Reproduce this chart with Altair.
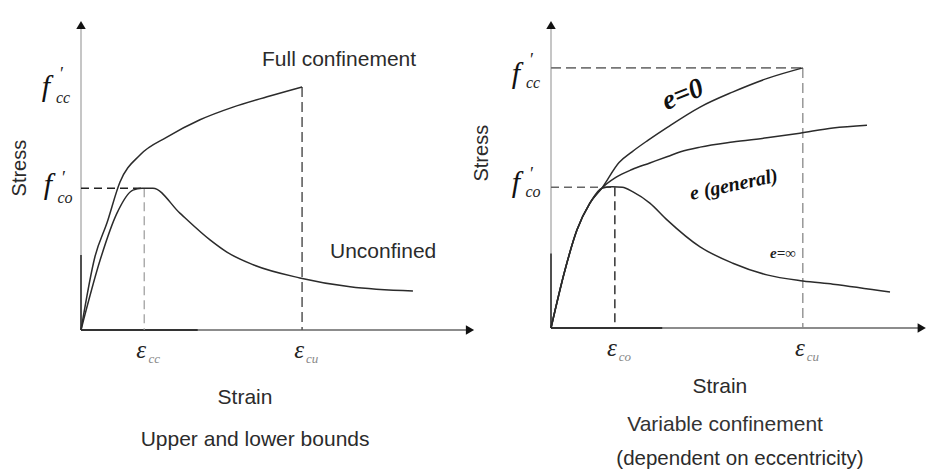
import altair as alt
import pandas as pd

# ---------------------------------------------------------------
# Left panel: upper and lower bounds of the stress-strain curve
# (strain in 10^-3, stress in MPa, schematic values)
# ---------------------------------------------------------------
L_UNC_STRAIN = [0, 0.59, 1.11, 1.60, 1.88, 2.22, 3.05, 3.98, 4.50, 5.31, 6.75, 8.30, 10.24]
L_UNC_STRESS = [0, 14.9, 24.9, 29.8, 30.2, 30.2, 24.9, 19.2, 16.6, 13.9, 11.1, 9.2, 8.3]
L_FULL_STRAIN = [0, 0.43, 0.80, 1.20, 1.82, 2.65, 3.67, 4.69, 5.74, 6.82]
L_FULL_STRESS = [0, 15.6, 22.8, 31.5, 37.3, 41.1, 44.8, 47.5, 49.7, 51.8]
L_FCO, L_FCC = 30.2, 51.8
L_EPS_CC, L_EPS_CU = 1.95, 6.82

# ---------------------------------------------------------------
# Right panel: variable confinement, dependent on eccentricity
# ---------------------------------------------------------------
R_RISE_STRAIN = [0, 0.43, 0.80, 1.20, 1.57]
R_RISE_STRESS = [0, 12.4, 21.0, 26.8, 30.0]
R_E0_STRAIN = [2.1, 2.5, 3.0, 3.6, 4.6, 5.6, 6.7, 7.77]
R_E0_STRESS = [35.5, 37.8, 40.3, 43.1, 47.4, 50.6, 53.6, 55.8]
R_GEN_STRAIN = [2.0, 2.5, 3.05, 3.6, 4.0, 4.6, 5.6, 6.66, 7.68, 8.7, 9.75]
R_GEN_STRESS = [32.3, 34.0, 35.4, 36.8, 37.8, 38.8, 39.9, 40.8, 41.8, 42.9, 43.5]
R_INF_STRAIN = [1.9, 2.2, 2.53, 3.05, 3.58, 4.60, 5.61, 6.66, 7.77, 8.70, 10.46]
R_INF_STRESS = [30.3, 30.2, 29.2, 26.8, 23.2, 17.4, 13.9, 11.4, 10.1, 9.4, 7.7]
R_FCO, R_FCC = 30.2, 55.8
R_EPS_CO, R_EPS_CU = 1.97, 7.77

STRESS_MAX = 65
L_STRAIN_MAX, R_STRAIN_MAX = 12.0, 11.54

SANS = "Liberation Sans"
SERIF = "Liberation Serif"
INK = "#2b2b2b"
TEXT_SIZE = 21

# each panel keeps its own scales; ranges place the panels side by side
SCALES = {
    "L": (alt.Scale(domain=[0, L_STRAIN_MAX], range=[0, 389], nice=False, zero=False),
          alt.Scale(domain=[0, STRESS_MAX], range=[305, 0], nice=False, zero=False)),
    "R": (alt.Scale(domain=[0, R_STRAIN_MAX], range=[470, 844], nice=False, zero=False),
          alt.Scale(domain=[0, STRESS_MAX], range=[303, 0], nice=False, zero=False)),
}


def enc(panel, with2=False):
    sx, sy = SCALES[panel]
    e = dict(x=alt.X("x:Q", scale=sx, axis=None), y=alt.Y("y:Q", scale=sy, axis=None))
    if with2:
        e.update(x2="x2:Q", y2="y2:Q")
    return e


def curve(panel, xs, ys):
    df = pd.DataFrame({"x": xs, "y": ys})
    return alt.Chart(df).mark_line(color=INK, strokeWidth=1.5, interpolate="monotone").encode(**enc(panel))


def segment(panel, x, y, x2, y2, **style):
    df = pd.DataFrame({"x": [x], "y": [y], "x2": [x2], "y2": [y2]})
    return alt.Chart(df).mark_rule(**style).encode(**enc(panel, True))


def label(panel, x, y, text, **style):
    df = pd.DataFrame({"x": [x], "y": [y], "t": [text]})
    return alt.Chart(df).mark_text(**style).encode(text="t:N", **enc(panel))


def caption(panel, x, y, text, **style):
    style.setdefault("fontSize", TEXT_SIZE)
    style.setdefault("color", INK)
    return label(panel, x, y, text, font=SANS, align="center", baseline="middle", **style)


def arrow(panel, x, y, shape):
    df = pd.DataFrame({"x": [x], "y": [y]})
    return alt.Chart(df).mark_point(shape=shape, filled=True, size=90, color="#111",
                                    opacity=1).encode(**enc(panel))


def axes(panel, xmax):
    return [
        segment(panel, 0, 0, 0, STRESS_MAX, color="#a8a8a8", strokeWidth=1.3),
        segment(panel, 0, 0, xmax, 0, color="#8c8c8c", strokeWidth=2),
        segment(panel, 0, 0, 0, 16, color="#333", strokeWidth=1.6),
        segment(panel, 0, 0, xmax * 0.3, 0, color="#333", strokeWidth=2),
        arrow(panel, 0, STRESS_MAX, "triangle-up"),
        arrow(panel, xmax, 0, "triangle-right"),
    ]


def f_label(panel, level, sub, dx, dys):
    # italic f with prime and subscript, anchored on the stress level
    return [
        label(panel, 0, level, "f", font=SERIF, fontStyle="italic", fontSize=30, color="#111",
              align="center", baseline="alphabetic", dx=dx, dy=dys[0]),
        label(panel, 0, level, "′", font=SERIF, fontSize=18, color="#222",
              align="center", baseline="alphabetic", dx=dx + 16, dy=dys[1]),
        label(panel, 0, level, sub, font=SERIF, fontStyle="italic", fontSize=16, color="#222",
              align="center", baseline="alphabetic", dx=dx + 17, dy=dys[2]),
    ]


def eps_label(panel, strain, sub):
    return [
        label(panel, strain, 0, "ε", font=SERIF, fontStyle="italic", fontSize=25, color="#222",
              align="center", baseline="alphabetic", dx=-3, dy=28),
        label(panel, strain, 0, sub, font=SERIF, fontStyle="italic", fontSize=13, color="#888",
              align="center", baseline="alphabetic", dx=10, dy=33),
    ]


# ---------------- left panel ----------------
left_layers = axes("L", L_STRAIN_MAX) + [
    segment("L", 0, L_FCO, L_EPS_CC, L_FCO, color="#222", strokeWidth=1.5, strokeDash=[8, 5]),
    segment("L", L_EPS_CC, L_FCO, L_EPS_CC, 0, color="#9a9a9a", strokeWidth=1.2, strokeDash=[9, 5]),
    segment("L", L_EPS_CU, L_FCC, L_EPS_CU, 0, color="#555", strokeWidth=1.5, strokeDash=[10, 5]),
    curve("L", L_UNC_STRAIN, L_UNC_STRESS),
    curve("L", L_FULL_STRAIN, L_FULL_STRESS),
    caption("L", 7.96, 57.5, "Full confinement"),
    caption("L", 9.32, 16.6, "Unconfined"),
    caption("L", -1.88, 34.5, "Stress", angle=270, fontSize=20),
    caption("L", 5.06, -14.5, "Strain"),
    caption("L", 5.37, -23.4, "Upper and lower bounds"),
] + f_label("L", L_FCC, "cc", -35, [9, -7, 16]) \
  + f_label("L", L_FCO, "co", -33, [6, -4, 15]) \
  + eps_label("L", L_EPS_CC, "cc") + eps_label("L", L_EPS_CU, "cu")

# ---------------- right panel ----------------
right_layers = axes("R", R_STRAIN_MAX - 0.1) + [
    segment("R", 0, R_FCC, R_EPS_CU, R_FCC, color="#777", strokeWidth=1.6, strokeDash=[10, 5]),
    segment("R", 0, R_FCO, R_EPS_CO, R_FCO, color="#666", strokeWidth=1.5, strokeDash=[8, 5]),
    segment("R", R_EPS_CO, R_FCO, R_EPS_CO, 0, color="#333", strokeWidth=1.5, strokeDash=[9, 5]),
    segment("R", R_EPS_CU, R_FCC, R_EPS_CU, 0, color="#888", strokeWidth=1.3, strokeDash=[10, 5]),
    curve("R", R_RISE_STRAIN + R_E0_STRAIN, R_RISE_STRESS + R_E0_STRESS),
    curve("R", R_RISE_STRAIN + R_GEN_STRAIN, R_RISE_STRESS + R_GEN_STRESS),
    curve("R", R_RISE_STRAIN + R_INF_STRAIN, R_RISE_STRESS + R_INF_STRESS),
    label("R", 4.07, 50.0, "e=0", font=SERIF, fontStyle="italic", fontWeight="bold",
          fontSize=28, color="#111", angle=338, align="center", baseline="middle"),
    label("R", 5.64, 30.7, "e (general)", font=SERIF, fontStyle="italic", fontWeight="bold",
          fontSize=20, color="#111", angle=348, align="center", baseline="middle"),
    label("R", 7.16, 16.1, "e=∞", font=SERIF, fontStyle="italic", fontWeight="bold",
          fontSize=15, color="#222", align="center", baseline="middle"),
    caption("R", -2.13, 37.5, "Stress", angle=270, fontSize=20),
    caption("R", 5.21, -12.7, "Strain"),
    caption("R", 5.37, -20.8, "Variable confinement", color="#333"),
    caption("R", 5.83, -28.1, "(dependent on eccentricity)", fontSize=20.5),
] + f_label("R", R_FCC, "cc", -35, [15, -2, 20]) \
  + f_label("R", R_FCO, "co", -35, [5, -7, 10]) \
  + eps_label("R", R_EPS_CO, "co") + eps_label("R", R_EPS_CU, "cu")

chart = (
    alt.layer(alt.layer(*left_layers), alt.layer(*right_layers))
    .resolve_scale(x="independent", y="independent")
    .properties(
        width=846,
        height=305,
        padding={"left": 81, "top": 25, "right": 0, "bottom": 139},
        autosize=alt.AutoSizeParams(type="none"),
        background="white",
    )
    .configure_view(stroke=None)
)

chart.save("out.html", embed_options={"renderer": "svg", "actions": False})
